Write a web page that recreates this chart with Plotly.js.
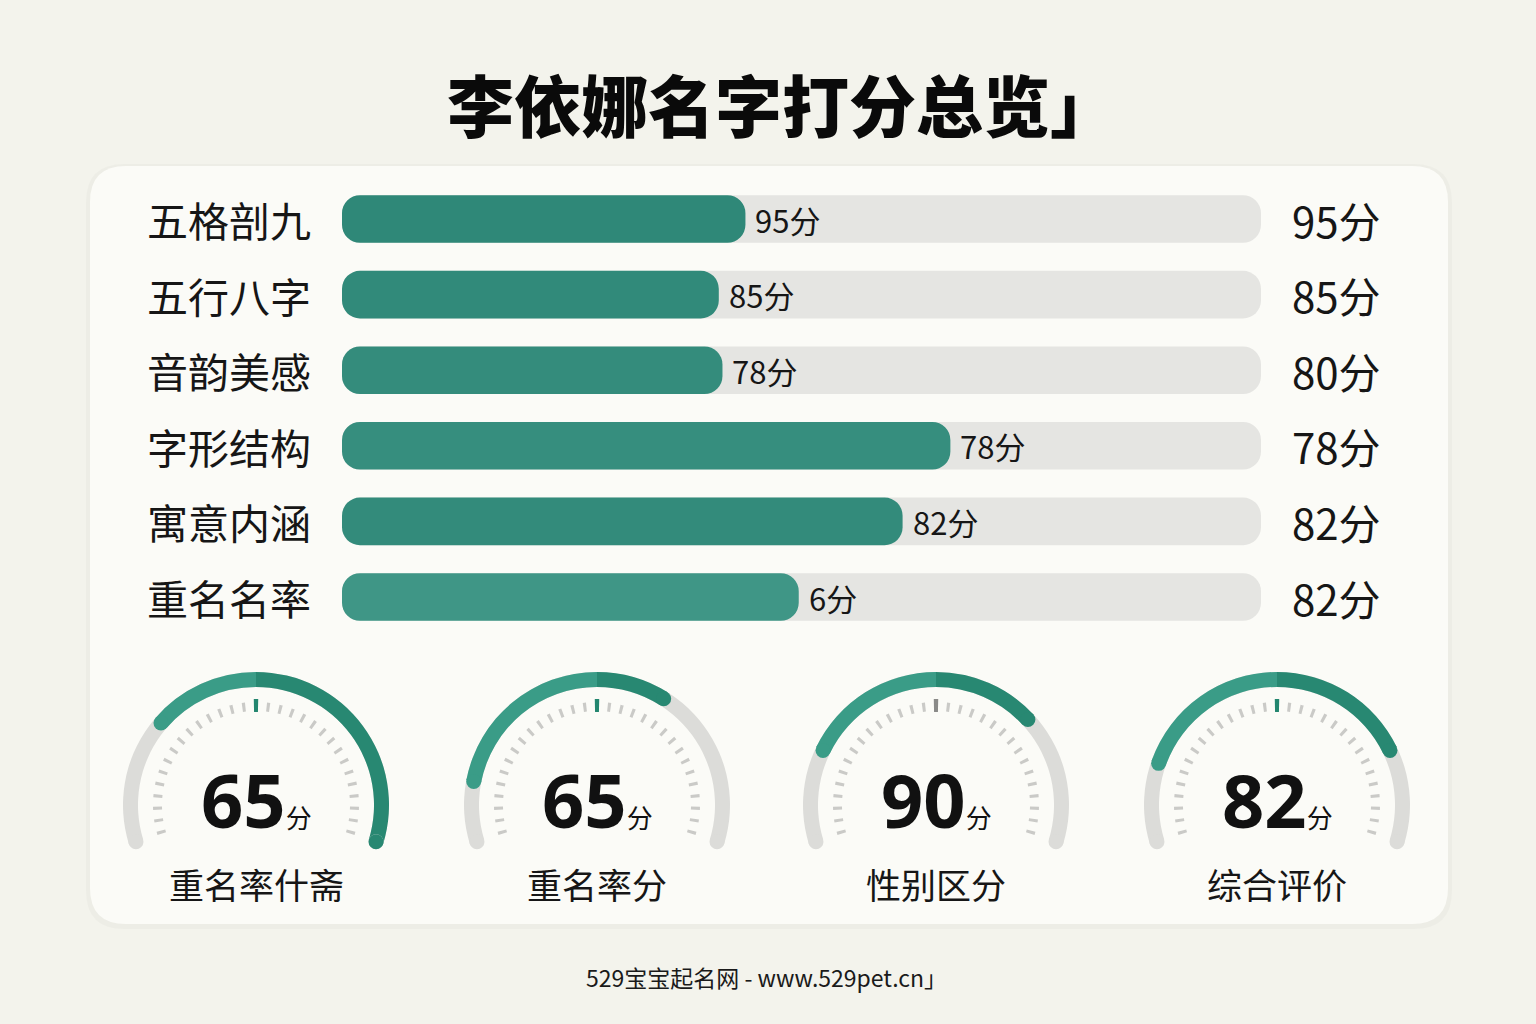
<!DOCTYPE html>
<html>
<head>
<meta charset="utf-8">
<script src="https://cdn.plot.ly/plotly-3.0.1.min.js"></script>
<style>
  html, body { margin: 0; padding: 0; background: #f3f3ec; }
  #chart { width: 1536px; height: 1024px; }
</style>
</head>
<body>
<div id="chart"></div>
<script>
// ---------- data ----------
const chartTitle = '李依娜名字打分总览」';
const footerText = '529宝宝起名网 - www.529pet.cn」';
const categories = ['五格剖九', '五行八字', '音韵美感', '字形结构', '寓意内涵', '重名名率'];
const barFill = [43.9, 41.0, 41.4, 66.2, 61.0, 49.7];   // drawn bar length, % of track
const innerScores = [95, 85, 78, 78, 82, 6];             // label at end of bar
const rightScores = [95, 85, 80, 78, 82, 82];            // label right of track
const scoreMax = 100;
const unit = '分';

const gaugeNames = ['重名率什斋', '重名率分', '性别区分', '综合评价'];
const gaugeValues = [65, 65, 90, 82];
const gaugeFillFrom = [27, 13, 20, 17];   // coloured arc start, gauge units (0-100)
const gaugeFillTo = [100, 65, 72, 80];    // coloured arc end, gauge units (0-100)

// ---------- styles / geometry ----------
const W = 1536, H = 1024;
const FONT = '"Noto Sans CJK SC", "Noto Sans", sans-serif';
const NUMFONT = '"Noto Sans", "Noto Sans CJK SC", sans-serif';
const px = x => x / W;
const py = y => 1 - y / H;
const trackColor = '#e5e5e2';
const barColors = ['#2f8878', '#318a7a', '#348c7c', '#368e7e', '#338b7b', '#3f9686'];
const tealLight = '#3a9c87', tealDark = '#288872';
const gaugeTrack = '#dcdcd9', tickColor = '#cacac7';
const centerTickColors = ['#23866f', '#23866f', '#8a8a88', '#23866f'];
const gaugeCX = [256, 597, 936, 1277], gaugeCY = 805, gaugeR = 140;
const angStart = 197, angEnd = -17;
const uToAng = u => angStart - u / 100 * (angStart - angEnd);

const traces = [];
const annotations = [];

// ---------- bars ----------
const trackX = categories.map(() => scoreMax);
function addBar(lengths, colors) {
  traces.push({
    type: 'bar', orientation: 'h', y: categories, x: lengths, base: lengths.map(() => 0),
    width: 0.63,
    marker: { color: colors, cornerradius: 18, line: { width: 0 } },
    hoverinfo: 'skip', showlegend: false
  });
}
addBar(trackX, trackColor);
addBar(barFill, barColors);

categories.forEach((c, i) => {
  annotations.push({ xref: 'paper', yref: 'y', x: px(145), y: c, xanchor: 'left', yanchor: 'middle',
    text: c, showarrow: false, font: { family: FONT, size: 41, color: '#161616' } });
  annotations.push({ xref: 'x', yref: 'y', x: barFill[i], y: c, xanchor: 'left', yanchor: 'middle', xshift: 8,
    text: innerScores[i] + unit, showarrow: false, font: { family: FONT, size: 31, color: '#161616' } });
  annotations.push({ xref: 'paper', yref: 'y', x: px(1290), y: c, xanchor: 'left', yanchor: 'middle',
    text: rightScores[i] + unit, showarrow: false, font: { family: FONT, size: 42, color: '#161616' } });
});

// ---------- gauges ----------
const polarLayouts = {};
function segs(a1, a2) {
  if (a1 > 90 && a2 < 90) return [[a1, 90, tealLight], [90, a2, tealDark]];
  return [[a1, a2, a1 > 90 ? tealLight : tealDark]];
}
const tickAngles = [];
for (let k = 0; k <= 30; k++) { if (k !== 15) tickAngles.push(196 - k * (212 / 30)); }

gaugeNames.forEach((name, i) => {
  const sp = 'polar' + (i === 0 ? '' : i + 1);
  const cx = gaugeCX[i];
  polarLayouts[sp] = {
    domain: { x: [px(cx - gaugeR), px(cx + gaugeR)], y: [py(gaugeCY + gaugeR), py(gaugeCY - gaugeR)] },
    bgcolor: 'rgba(0,0,0,0)',
    radialaxis: { visible: false, range: [0, gaugeR] },
    angularaxis: { visible: false, rotation: 0, direction: 'counterclockwise' },
    hole: 0
  };
  const base = { subplot: sp, hoverinfo: 'skip', showlegend: false };
  // track
  traces.push(Object.assign({ type: 'barpolar', r: [15, 15], base: [118, 118],
    theta: [(angStart + 90) / 2, (90 + angEnd) / 2], width: [angStart - 90, 90 - angEnd],
    marker: { color: gaugeTrack, line: { width: 0 } } }, base));
  traces.push(Object.assign({ type: 'scatterpolar', mode: 'markers', r: [125.5, 125.5], theta: [angStart, angEnd],
    marker: { size: 15, color: gaugeTrack, line: { width: 0 } } }, base));
  // ticks
  traces.push(Object.assign({ type: 'barpolar', r: tickAngles.map(() => 9), base: tickAngles.map(() => 94),
    theta: tickAngles, width: 1.8, marker: { color: tickColor, line: { width: 0 } } }, base));
  traces.push(Object.assign({ type: 'barpolar', r: [13], base: [93], theta: [90], width: 2.4,
    marker: { color: centerTickColors[i], line: { width: 0 } } }, base));
  // fill
  const a1 = uToAng(gaugeFillFrom[i]), a2 = uToAng(gaugeFillTo[i]);
  const ss = segs(a1, a2);
  traces.push(Object.assign({ type: 'barpolar', r: ss.map(() => 15), base: ss.map(() => 118),
    theta: ss.map(s => (s[0] + s[1]) / 2), width: ss.map(s => s[0] - s[1]),
    marker: { color: ss.map(s => s[2]), line: { width: 0 } } }, base));
  traces.push(Object.assign({ type: 'scatterpolar', mode: 'markers', r: [125.5, 125.5], theta: [a1, a2],
    marker: { size: 15, color: [a1 > 90 ? tealLight : tealDark, a2 < 90 ? tealDark : tealLight], line: { width: 0 } } }, base));

  annotations.push({ xref: 'paper', yref: 'paper', x: px(cx), y: py(799), xanchor: 'center', yanchor: 'middle',
    text: '<b>' + gaugeValues[i] + '</b><span style="font-size:26px">' + unit + '</span>', showarrow: false,
    font: { family: NUMFONT, size: 74, color: '#111111' } });
  annotations.push({ xref: 'paper', yref: 'paper', x: px(cx), y: py(883), xanchor: 'center', yanchor: 'middle',
    text: name, showarrow: false, font: { family: FONT, size: 35, color: '#161616' } });
});

// ---------- titles ----------
annotations.push({ xref: 'paper', yref: 'paper', x: px(782), y: py(102), xanchor: 'center', yanchor: 'middle',
  text: chartTitle, showarrow: false, font: { family: FONT, size: 67, color: '#0a0a0a', weight: 900 } });
annotations.push({ xref: 'paper', yref: 'paper', x: px(766), y: py(977), xanchor: 'center', yanchor: 'middle',
  text: footerText, showarrow: false, font: { family: FONT, size: 23, color: '#1a1a1a' } });

// ---------- card ----------
function roundRect(x0, y0, x1, y1, r) {
  const P = (x, y) => px(x) + ',' + py(y);
  return 'M' + P(x0 + r, y0) + ' L' + P(x1 - r, y0) + ' Q' + P(x1, y0) + ' ' + P(x1, y0 + r) +
    ' L' + P(x1, y1 - r) + ' Q' + P(x1, y1) + ' ' + P(x1 - r, y1) +
    ' L' + P(x0 + r, y1) + ' Q' + P(x0, y1) + ' ' + P(x0, y1 - r) +
    ' L' + P(x0, y0 + r) + ' Q' + P(x0, y0) + ' ' + P(x0 + r, y0) + ' Z';
}
const shapes = [
  { type: 'path', xref: 'paper', yref: 'paper', layer: 'below', path: roundRect(86, 164, 1452, 929, 38),
    fillcolor: 'rgba(0,0,0,0.025)', line: { width: 0 } },
  { type: 'path', xref: 'paper', yref: 'paper', layer: 'below', path: roundRect(90, 166, 1448, 924, 36),
    fillcolor: '#fbfbf7', line: { width: 0 } }
];

const yDomTop = 219 - 37.8, yDomBot = 597 + 37.8;
const layout = Object.assign({
  width: W, height: H,
  margin: { l: 0, r: 0, t: 0, b: 0 },
  paper_bgcolor: '#f3f3ec', plot_bgcolor: 'rgba(0,0,0,0)',
  barmode: 'overlay',
  showlegend: false,
  xaxis: { domain: [px(342), px(1261)], range: [0, scoreMax], visible: false, fixedrange: true },
  yaxis: { domain: [py(yDomBot), py(yDomTop)], type: 'category', range: [5.5, -0.5], visible: false, fixedrange: true },
  annotations: annotations,
  shapes: shapes
}, polarLayouts);

Plotly.newPlot('chart', traces, layout, { displayModeBar: false, staticPlot: true });
</script>
</body>
</html>
